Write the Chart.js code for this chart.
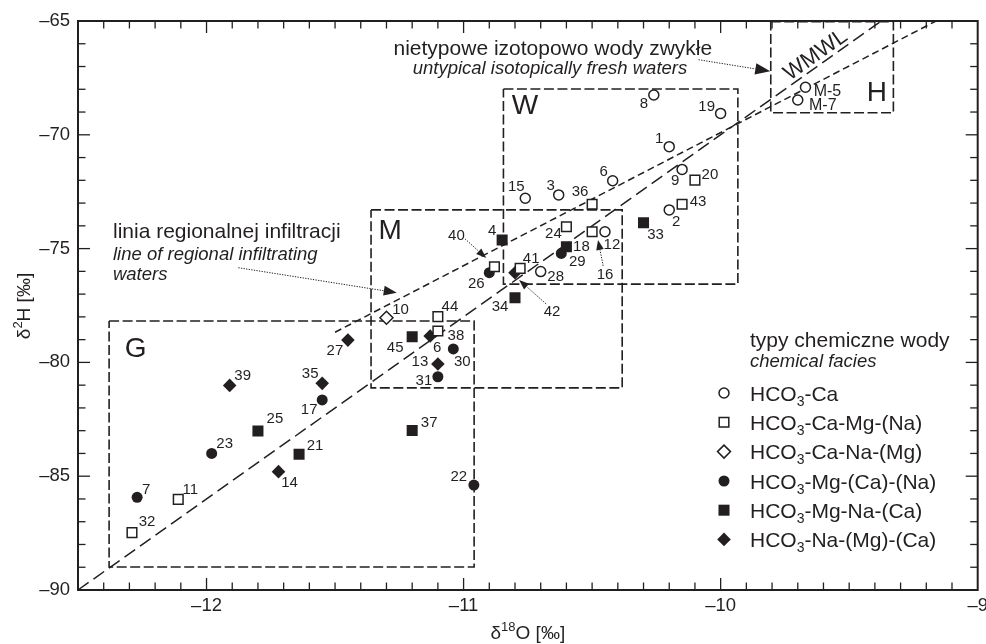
<!DOCTYPE html>
<html><head><meta charset="utf-8">
<script src="https://cdn.jsdelivr.net/npm/chart.js@4.4.1/dist/chart.umd.min.js"></script>
<style>html,body{margin:0;padding:0;background:#fff}#wrap{width:986px;height:644px}</style>
</head><body><div id="wrap"><canvas id="c" width="986" height="644"></canvas></div>
<script>
// ---------- data ----------
const facies = ['HCO3-Ca','HCO3-Ca-Mg-(Na)','HCO3-Ca-Na-(Mg)','HCO3-Mg-(Ca)-(Na)','HCO3-Mg-Na-(Ca)','HCO3-Na-(Mg)-(Ca)'];
const xTicks = [-12,-11,-10,-9];
const yTicks = [-90,-85,-80,-75,-70,-65];

const caIds = ['8','19','1','9','2','6','3','15','12','28','M-5','M-7'];
const caX   = [-10.26,-10.00,-10.20,-10.15,-10.20,-10.42,-10.63,-10.76,-10.45,-10.70,-9.67,-9.70];
const caY   = [-68.25,-69.06,-70.52,-71.52,-73.30,-72.02,-72.64,-72.79,-74.26,-76.01,-67.91,-68.47];

const caMgIds = ['20','43','36','24','16','41','40','44','38','11','32'];
const caMgX   = [-10.10,-10.15,-10.50,-10.60,-10.50,-10.78,-10.88,-11.10,-11.10,-12.11,-12.29];
const caMgY   = [-71.99,-73.05,-73.05,-74.04,-74.26,-75.87,-75.80,-77.99,-78.62,-86.02,-87.48];

const caNaIds = ['10'];
const caNaX   = [-11.30];
const caNaY   = [-78.04];

const mgCaIds = ['29','26','30','31','17','23','7','22'];
const mgCaX   = [-10.62,-10.90,-11.04,-11.10,-11.55,-11.98,-12.27,-10.96];
const mgCaY   = [-75.21,-76.06,-79.41,-80.63,-81.65,-84.00,-85.93,-85.39];

const mgNaIds = ['33','18','4','34','45','37','25','21'];
const mgNaX   = [-10.30,-10.60,-10.85,-10.80,-11.20,-11.20,-11.80,-11.64];
const mgNaY   = [-73.86,-74.92,-74.62,-77.16,-78.87,-82.99,-83.01,-84.04];

const naMgIds = ['42','6','13','27','39','35','14'];
const naMgX   = [-10.80,-11.13,-11.10,-11.45,-11.91,-11.55,-11.72];
const naMgY   = [-76.06,-78.84,-80.07,-79.02,-81.01,-80.92,-84.80];

// lines: WMWL (long dash) and line of regional infiltration (short dash)
const wmwlX = [-12.5,-9.375], wmwlY = [-90,-65];
const lriX  = [-11.5,-9.162], lriY  = [-78.675,-65];

// zone boxes [x1,x2,yTop,yBottom]
const boxNames = ['G','M','W','H'];
const boxG = [-12.379,-10.959,-78.18,-88.99];
const boxM = [-11.360,-10.383,-73.30,-81.12];
const boxW = [-10.845,-9.933,-67.99,-76.56];
const boxH = [-9.805,-9.328,-65.03,-69.03];

// ---------- styles / label positions (pixels) ----------
const INK = '#231f20';
const FONT = '"Liberation Sans", Arial, Helvetica, sans-serif';
const caOff   = [[-10,9],[-14,-7],[-10,-8],[-7,11],[7,12],[-9,-9],[-8,-9],[-9,-11],[7,13],[15,5],[22,4],[25,6]];
const caMgOff = [[15,-5],[16,-2],[-12,-12],[-13,7],[13,43],[11,-10],[-38,-31],[12,-10],[18,5],[12,-10],[15,-11]];
const caNaOff = [[14,-8]];
const mgCaOff = [[16,8],[-13,11],[9,13],[-14,4],[-13,10],[13,-10],[9,-8],[-15,-8]];
const mgNaOff = [[12,12],[15,0],[-10,-9],[-15,9],[-17,11],[17,-8],[17,-12],[16,-8]];
const naMgOff = [[37,39],[7,12],[-18,-2],[-13,11],[13,-10],[-12,-9],[11,11]];

const seriesStyle = [
  {pointStyle:'circle',  radius:5,   bg:'#fff', bw:1.5},
  {pointStyle:'rect',    radius:6.8, bg:'#fff', bw:1.5},
  {pointStyle:'rectRot', radius:6.5, bg:'#fff', bw:1.5},
  {pointStyle:'circle',  radius:5.5, bg:INK,    bw:0},
  {pointStyle:'rect',    radius:7.8, bg:INK,    bw:0},
  {pointStyle:'rectRot', radius:6.8, bg:INK,    bw:0}
];
const seriesIds = [caIds,caMgIds,caNaIds,mgCaIds,mgNaIds,naMgIds];
const seriesX = [caX,caMgX,caNaX,mgCaX,mgNaX,naMgX];
const seriesY = [caY,caMgY,caNaY,mgCaY,mgNaY,naMgY];
const seriesOff = [caOff,caMgOff,caNaOff,mgCaOff,mgNaOff,naMgOff];

function pts(xs, ys){ return xs.map((v,i)=>({x:v,y:ys[i]})); }
function boxPts(b){ return [{x:b[0],y:b[2]},{x:b[1],y:b[2]},{x:b[1],y:b[3]},{x:b[0],y:b[3]},{x:b[0],y:b[2]}]; }

const datasets = [];
facies.forEach((name,i)=>{
  const s = seriesStyle[i];
  datasets.push({label:name, data:pts(seriesX[i],seriesY[i]), pointStyle:s.pointStyle, pointRadius:s.radius,
    pointBackgroundColor:s.bg, pointBorderColor:INK, pointBorderWidth:s.bw, showLine:false, order:0,
    ids:seriesIds[i], offs:seriesOff[i]});
});
datasets.push({label:'WMWL', data:pts(wmwlX,wmwlY), showLine:true, pointRadius:0, borderColor:INK, borderWidth:1.5, borderDash:[13,6], order:2, clip:false});
datasets.push({label:'LRI', data:pts(lriX,lriY), showLine:true, pointRadius:0, borderColor:INK, borderWidth:1.5, borderDash:[7,4], order:2, clip:false});
[boxG,boxM,boxW,boxH].forEach((b,i)=>{
  datasets.push({label:'box '+boxNames[i], data:boxPts(b), showLine:true, pointRadius:0, borderColor:INK, borderWidth:1.6, borderDash:[10,3.5], order:3, clip:false});
});

// ---------- helpers ----------
function drawRich(ctx, parts, x, y, align){
  let w = 0;
  parts.forEach(p=>{ ctx.font = p.f; p.w = ctx.measureText(p.t).width; w += p.w; });
  let cx = align==='center' ? x - w/2 : (align==='right' ? x - w : x);
  ctx.textAlign = 'left'; ctx.textBaseline = 'alphabetic';
  parts.forEach(p=>{ ctx.font = p.f; ctx.fillText(p.t, cx, y + (p.dy||0)); cx += p.w; });
}
function hcoParts(name, size, subSize){
  const rest = name.slice(4);
  return [{t:'HCO', f:size+'px '+FONT},{t:'3', f:subSize+'px '+FONT, dy:5},{t:rest, f:size+'px '+FONT}];
}
function arrow(ctx, x1, y1, x2, y2, head){
  const ang = Math.atan2(y2-y1, x2-x1);
  const bx = x2 - head*Math.cos(ang), by = y2 - head*Math.sin(ang);
  ctx.save();
  ctx.setLineDash([1.3,1.3]); ctx.lineWidth = 1;
  ctx.beginPath(); ctx.moveTo(x1,y1); ctx.lineTo(bx,by); ctx.stroke();
  ctx.setLineDash([]);
  const w = head*0.38;
  ctx.beginPath();
  ctx.moveTo(x2,y2);
  ctx.lineTo(bx + w*Math.sin(ang), by - w*Math.cos(ang));
  ctx.lineTo(bx - w*Math.sin(ang), by + w*Math.cos(ang));
  ctx.closePath(); ctx.fill();
  ctx.restore();
}

// annotations in data coordinates
const arrowsData = [
  [-11.876,-75.84,-11.260,-76.94,13],
  [-10.086,-66.70,-9.807,-67.21,15],
  [-10.994,-74.58,-10.912,-75.41,10],
  [-10.457,-75.76,-10.477,-74.62,10],
  [-10.679,-77.43,-10.784,-76.38,10]
];

const annot = {
  id:'annot',
  afterDatasetsDraw(chart){
    const {ctx, scales:{x,y}, chartArea:a} = chart;
    const px = v=>x.getPixelForValue(v), py = v=>y.getPixelForValue(v);
    ctx.save();
    ctx.fillStyle = INK; ctx.strokeStyle = INK;
    // point labels
    chart.data.datasets.forEach((ds,di)=>{
      if (!ds.ids) return;
      const meta = chart.getDatasetMeta(di);
      ctx.textAlign = 'center'; ctx.textBaseline = 'middle';
      meta.data.forEach((el,i)=>{
        const id = ds.ids[i];
        ctx.font = (id.startsWith('M') ? '16px ' : '15px ') + FONT;
        const o = ds.offs[i];
        ctx.fillText(id, el.x + o[0], el.y + o[1]);
      });
    });
    // zone letters
    const letters = [['G',-12.276,-79.39],['M',-11.286,-74.18],['W',-10.761,-68.71],['H',-9.392,-68.14]];
    ctx.font = '28px ' + FONT; ctx.textAlign='center'; ctx.textBaseline='middle';
    letters.forEach(l=>ctx.fillText(l[0], px(l[1]), py(l[2])+1));
    // WMWL label along the line
    const ang = Math.atan2(py(wmwlY[1])-py(wmwlY[0]), px(wmwlX[1])-px(wmwlX[0]));
    ctx.save();
    ctx.translate(px(-9.63), py(-66.5)); ctx.rotate(ang);
    ctx.font = '22px ' + FONT; ctx.fillText('WMWL', 0, 0);
    ctx.restore();
    // texts
    ctx.textBaseline = 'alphabetic';
    ctx.textAlign = 'right';
    ctx.font = '21px ' + FONT; ctx.fillText('nietypowe izotopowo wody zwykłe', px(-10.033), py(-66.48));
    ctx.font = 'italic 18.5px ' + FONT; ctx.fillText('untypical isotopically fresh waters', px(-10.130), py(-67.31));
    ctx.textAlign = 'left';
    ctx.font = '21px ' + FONT; ctx.fillText('linia regionalnej infiltracji', px(-12.364), py(-74.556));
    ctx.font = 'italic 18.5px ' + FONT; ctx.fillText('line of regional infiltrating', px(-12.364), py(-75.52));
    ctx.fillText('waters', px(-12.364), py(-76.40));
    // arrows
    arrowsData.forEach(a=>arrow(ctx, px(a[0]), py(a[1]), px(a[2]), py(a[3]), a[4]));
    // legend
    const lx = 724, tx = 750;
    ctx.textAlign='left';
    ctx.font = '21px ' + FONT; ctx.fillText('typy chemiczne wody', tx, 346.7);
    ctx.font = 'italic 18.5px ' + FONT; ctx.fillText('chemical facies', tx, 366.7);
    const rows = [393,422.3,451.6,481,510.2,539.4];
    facies.forEach((name,i)=>{
      const s = seriesStyle[i];
      ctx.fillStyle = s.bg; ctx.strokeStyle = INK; ctx.lineWidth = s.bw;
      Chart.helpers.drawPoint(ctx, {pointStyle:s.pointStyle, radius:s.radius, rotation:0, borderWidth:s.bw}, lx, rows[i]);
      ctx.fillStyle = INK;
      drawRich(ctx, hcoParts(name,21,14), tx, rows[i]+7.5, 'left');
    });
    // axis titles
    drawRich(ctx, [{t:'δ',f:'19px '+FONT},{t:'18',f:'13px '+FONT,dy:-8},{t:'O [‰]',f:'19px '+FONT}], (a.left+a.right)/2, 639, 'center');
    ctx.save();
    ctx.translate(30, 306); ctx.rotate(-Math.PI/2);
    drawRich(ctx, [{t:'δ',f:'19px '+FONT},{t:'2',f:'13px '+FONT,dy:-8},{t:'H [‰]',f:'19px '+FONT}], 0, 0, 'center');
    ctx.restore();
    ctx.restore();
  },
  afterDraw(chart){
    const {ctx, chartArea:a, scales:{x,y}} = chart;
    ctx.save();
    ctx.strokeStyle = INK; ctx.lineWidth = 1.3;
    const seg=(x1,y1,x2,y2)=>{ctx.beginPath();ctx.moveTo(x1,y1);ctx.lineTo(x2,y2);ctx.stroke();};
    for (let i=1;i<35;i++){
      const v = -12.5 + i*0.1; const p = x.getPixelForValue(v);
      const major = Math.abs(v-Math.round(v))<1e-6; const L = major?12:7.5;
      seg(p,a.bottom,p,a.bottom-L); seg(p,a.top,p,a.top+L);
    }
    for (let v=-89; v<=-66; v++){
      const p = y.getPixelForValue(v); const major = v%5===0; const L = major?12:7.5;
      seg(a.left,p,a.left+L,p); seg(a.right,p,a.right-L,p);
    }
    ctx.lineWidth = 2;
    ctx.strokeRect(a.left, a.top, a.right-a.left, a.bottom-a.top);
    ctx.restore();
  }
};

const fmt = v => (v<0 ? '–' : '') + Math.abs(v);

new Chart(document.getElementById('c'), {
  type:'scatter',
  data:{datasets},
  options:{
    responsive:false, devicePixelRatio:1, animation:false,
    layout:{padding:{left:0,top:21,right:8,bottom:0}},
    plugins:{legend:{display:false}, tooltip:{enabled:false}},
    scales:{
      x:{type:'linear', min:-12.5, max:-9,
        grid:{display:false, drawTicks:false}, border:{display:false},
        ticks:{color:INK, font:{family:FONT, size:18.5}, padding:5, maxRotation:0, autoSkip:false, callback:fmt},
        afterBuildTicks:s=>{ s.ticks = xTicks.map(v=>({value:v})); },
        afterFit:s=>{ s.height = 54; s.paddingLeft = 0; s.paddingRight = 0; }
      },
      y:{type:'linear', min:-90, max:-65,
        grid:{display:false, drawTicks:false}, border:{display:false},
        ticks:{color:INK, font:{family:FONT, size:18.5}, padding:8, autoSkip:false, callback:fmt},
        afterBuildTicks:s=>{ s.ticks = yTicks.map(v=>({value:v})); },
        afterFit:s=>{ s.width = 78; s.paddingTop = 0; s.paddingBottom = 0; }
      }
    }
  },
  plugins:[annot]
});
</script></body></html>
